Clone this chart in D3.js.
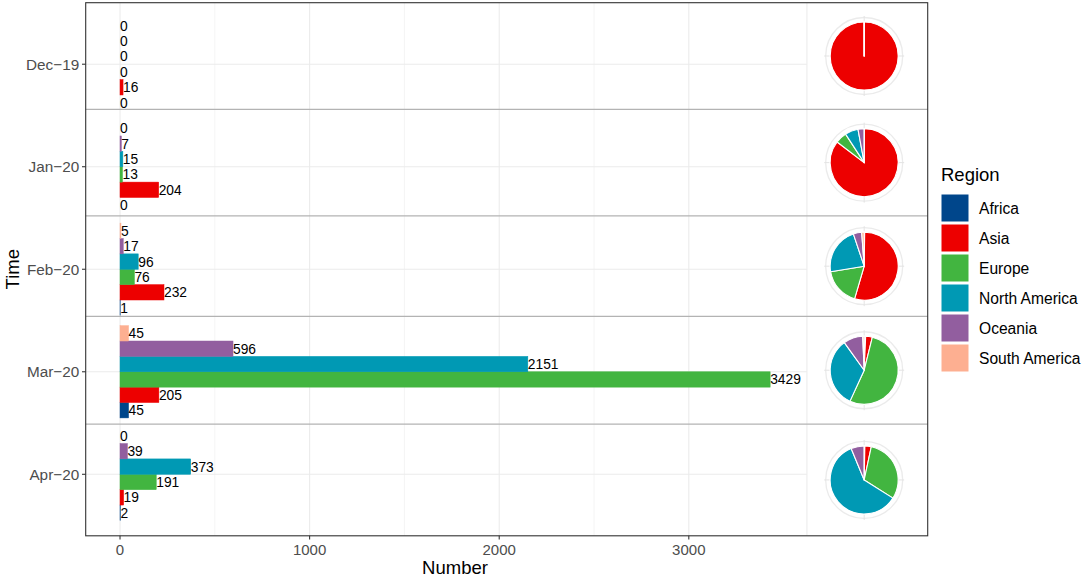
<!DOCTYPE html>
<html>
<head>
<meta charset="utf-8">
<script src="https://cdn.jsdelivr.net/npm/d3@7"></script>
<style>
  html, body { margin: 0; padding: 0; background: #fff; }
  svg { display: block; font-family: "Liberation Sans", Arial, Helvetica, sans-serif; }
</style>
</head>
<body>
<svg id="chart" width="1084" height="579"></svg>
<script>
// ---------- data ----------
const months = ["Dec\u221219", "Jan\u221220", "Feb\u221220", "Mar\u221220", "Apr\u221220"];
const regions = ["Africa", "Asia", "Europe", "North America", "Oceania", "South America"];
const regionColors = ["#00468B", "#ED0000", "#42B540", "#0099B4", "#925E9F", "#FDAF91"];
const africa       = [0, 0, 1, 45, 2];
const asia         = [16, 204, 232, 205, 19];
const europe       = [0, 13, 76, 3429, 191];
const northAmerica = [0, 15, 96, 2151, 373];
const oceania      = [0, 7, 17, 596, 39];
const southAmerica = [0, 0, 5, 45, 0];
const xTicks = [0, 1000, 2000, 3000];
const xMinorTicks = [500, 1500, 2500];
const xLimits = [-181, 4260];
// month-row dividers, in category-index units (Dec = 0 ... Apr = 4)
const dividers = [0.44, 1.48, 2.46, 3.51];
const pieX = 3925;          // x position (data units) of the pie column
const pieColumnStart = 3623; // left edge (data units) of the pie column

const series = [africa, asia, europe, northAmerica, oceania, southAmerica];

// ---------- layout ----------
const svg = d3.select("#chart");
const panel = { left: 85.7, right: 927.7, top: 2.7, bottom: 535.8 };

const x = d3.scaleLinear().domain(xLimits).range([panel.left, panel.right]);
const y = d3.scalePoint().domain(months).range([panel.top, panel.bottom]).padding(0.6);
const step = y.step();
const idxToY = d3.scaleLinear().domain([0, 1]).range([y(months[0]), y(months[0]) + step]);
const color = d3.scaleOrdinal().domain(regions).range(regionColors);

const groupH = step * 0.9;
const barH = groupH / regions.length;

// flat records
const records = [];
months.forEach((m, mi) => {
  regions.forEach((r, ri) => {
    records.push({ month: m, mi, region: r, ri, value: series[ri][mi] });
  });
});
// bar y: Africa at the bottom of group, South America at top
const barTop = d => y(d.month) + groupH / 2 - (d.ri + 1) * barH;

const g = svg.append("g");

// background
g.append("rect").attr("x", panel.left).attr("y", panel.top)
  .attr("width", panel.right - panel.left).attr("height", panel.bottom - panel.top)
  .attr("fill", "#fff");

// minor vertical gridlines
g.selectAll(".vminor").data(xMinorTicks).join("line")
  .attr("x1", d => x(d)).attr("x2", d => x(d))
  .attr("y1", panel.top).attr("y2", panel.bottom)
  .attr("stroke", "#ebebeb").attr("stroke-width", 0.55);
// major vertical gridlines
g.selectAll(".vmajor").data(xTicks).join("line")
  .attr("x1", d => x(d)).attr("x2", d => x(d))
  .attr("y1", panel.top).attr("y2", panel.bottom)
  .attr("stroke", "#ebebeb").attr("stroke-width", 1.07);
// major horizontal gridlines (stop at pie column)
g.selectAll(".hmajor").data(months).join("line")
  .attr("x1", panel.left).attr("x2", x(pieColumnStart))
  .attr("y1", d => y(d)).attr("y2", d => y(d))
  .attr("stroke", "#ebebeb").attr("stroke-width", 1.07);
// pie column edge
g.append("line")
  .attr("x1", x(pieColumnStart)).attr("x2", x(pieColumnStart))
  .attr("y1", panel.top).attr("y2", panel.bottom)
  .attr("stroke", "#ebebeb").attr("stroke-width", 1.07);

// bars
g.selectAll(".bar").data(records).join("rect")
  .attr("x", x(0))
  .attr("y", d => barTop(d))
  .attr("width", d => x(d.value) - x(0))
  .attr("height", barH)
  .attr("fill", d => color(d.region))
  .attr("stroke", d => color(d.region))
  .attr("stroke-width", 0.5);

// value labels
g.selectAll(".lbl").data(records).join("text")
  .attr("x", d => x(d.value))
  .attr("y", d => barTop(d) + barH / 2)
  .attr("dy", "0.36em")
  .attr("font-size", 13.8)
  .attr("fill", "#000")
  .text(d => d.value);

// dividers
g.selectAll(".div").data(dividers).join("line")
  .attr("x1", panel.left).attr("x2", panel.right)
  .attr("y1", d => idxToY(d)).attr("y2", d => idxToY(d))
  .attr("stroke", "#b3b3b3").attr("stroke-width", 1.2);

// pies
const boxEdges = [panel.top, ...dividers.map(d => idxToY(d)), panel.bottom];
const pie = d3.pie().sort(null).value(d => d.value);
const pieR = 34, ringR = 38.5;
const arc = d3.arc().innerRadius(0).outerRadius(pieR);
months.forEach((m, mi) => {
  const cy = (boxEdges[mi] + boxEdges[mi + 1]) / 2;
  const cx = x(pieX);
  const pg = g.append("g").attr("transform", `translate(${cx},${cy})`);
  pg.append("circle").attr("r", ringR).attr("fill", "none")
    .attr("stroke", "#ebebeb").attr("stroke-width", 1.3);
  [0, 90, 180, 270].forEach(a => {
    const rad = a * Math.PI / 180;
    pg.append("line")
      .attr("x1", Math.sin(rad) * (pieR + 0.5)).attr("y1", -Math.cos(rad) * (pieR + 0.5))
      .attr("x2", Math.sin(rad) * (ringR + 1.5)).attr("y2", -Math.cos(rad) * (ringR + 1.5))
      .attr("stroke", "#e3e3e3").attr("stroke-width", 1);
  });
  const slices = records.filter(d => d.mi === mi);
  pg.selectAll("path").data(pie(slices)).join("path")
    .attr("d", arc)
    .attr("fill", d => color(d.data.region))
    .attr("stroke", "#fff")
    .attr("stroke-width", 1.1)
    .attr("stroke-linejoin", "round");
});

// panel border
g.append("rect").attr("x", panel.left).attr("y", panel.top)
  .attr("width", panel.right - panel.left).attr("height", panel.bottom - panel.top)
  .attr("fill", "none").attr("stroke", "#333").attr("stroke-width", 1.1);

// x axis
const xAxis = g.append("g");
xAxis.selectAll("line").data(xTicks).join("line")
  .attr("x1", d => x(d)).attr("x2", d => x(d))
  .attr("y1", panel.bottom).attr("y2", panel.bottom + 3.7)
  .attr("stroke", "#333").attr("stroke-width", 1.07);
xAxis.selectAll("text").data(xTicks).join("text")
  .attr("x", d => x(d)).attr("y", panel.bottom + 14)
  .attr("dy", "0.36em").attr("text-anchor", "middle")
  .attr("font-size", 15).attr("fill", "#4d4d4d")
  .text(d => d);

// y axis
const yAxis = g.append("g");
yAxis.selectAll("line").data(months).join("line")
  .attr("x1", panel.left - 3.7).attr("x2", panel.left)
  .attr("y1", d => y(d)).attr("y2", d => y(d))
  .attr("stroke", "#333").attr("stroke-width", 1.07);
yAxis.selectAll("text").data(months).join("text")
  .attr("x", panel.left - 6.5).attr("y", d => y(d))
  .attr("dy", "0.36em").attr("text-anchor", "end")
  .attr("font-size", 15.3).attr("fill", "#4d4d4d")
  .text(d => d);

// axis titles
svg.append("text").attr("x", 455).attr("y", 574)
  .attr("text-anchor", "middle").attr("font-size", 18.5).attr("fill", "#000")
  .text("Number");
svg.append("text")
  .attr("transform", `translate(19,${(panel.top + panel.bottom) / 2}) rotate(-90)`)
  .attr("text-anchor", "middle").attr("font-size", 18.5).attr("fill", "#000")
  .text("Time");

// legend
const lg = svg.append("g").attr("transform", "translate(941,0)");
lg.append("text").attr("x", 0).attr("y", 181).attr("font-size", 18.5).attr("fill", "#000")
  .text("Region");
const keyY = d3.scaleBand().domain(regions).range([194, 374]).paddingInner(0);
lg.selectAll("rect").data(regions).join("rect")
  .attr("x", 0.5).attr("y", d => keyY(d) + 0.5)
  .attr("width", 27).attr("height", keyY.bandwidth() - 3)
  .attr("fill", d => color(d));
lg.selectAll(".lt").data(regions).join("text")
  .attr("x", 38).attr("y", d => keyY(d) + (keyY.bandwidth() - 2) / 2)
  .attr("dy", "0.36em").attr("font-size", 15.6).attr("fill", "#000")
  .text(d => d);
</script>
</body>
</html>
